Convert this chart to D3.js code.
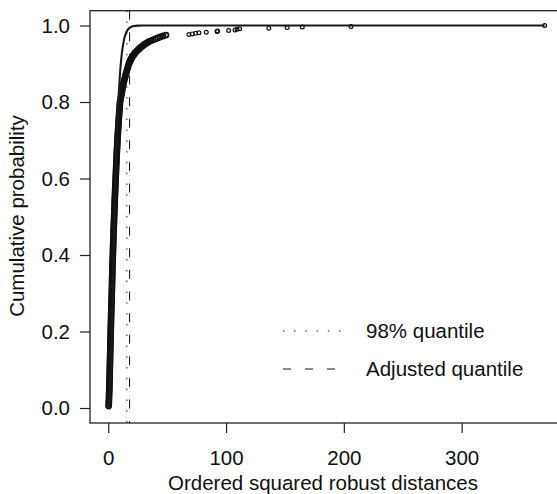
<!DOCTYPE html>
<html><head><meta charset="utf-8">
<script src="https://cdn.jsdelivr.net/npm/d3@7"></script>
<style>
body{margin:0;background:#fff}
svg{display:block}
text{font-family:"Liberation Sans",Arial,Helvetica,sans-serif;fill:#111}
</style>
</head><body>
<svg id="chart" width="557" height="494"></svg>
<script>
// ---- data ----
// dense part of the ordered squared robust distances and their cumulative probabilities
const bandDist = [
  0.35,0.42,0.48,0.55,0.62,0.66,0.72,0.78,0.84,0.90,
  0.93,0.98,1.02,1.06,1.10,1.14,1.18,1.22,1.26,1.30,
  1.34,1.38,1.42,1.46,1.50,1.54,1.58,1.62,1.66,1.70,
  1.74,1.78,1.82,1.86,1.90,1.94,1.98,2.02,2.06,2.10,
  2.14,2.18,2.22,2.26,2.30,2.34,2.38,2.42,2.46,2.50,
  2.55,2.60,2.65,2.70,2.75,2.80,2.85,2.90,2.95,3.00,
  3.04,3.08,3.12,3.16,3.20,3.24,3.28,3.32,3.36,3.40,
  3.45,3.50,3.55,3.60,3.65,3.70,3.75,3.80,3.85,3.90,
  3.95,4.00,4.05,4.10,4.15,4.20,4.25,4.30,4.35,4.40,
  4.46,4.52,4.58,4.64,4.70,4.76,4.82,4.88,4.94,5.00,
  5.06,5.12,5.18,5.24,5.30,5.36,5.42,5.48,5.54,5.60,
  5.67,5.74,5.81,5.88,5.95,6.02,6.09,6.16,6.23,6.30,
  6.37,6.44,6.51,6.58,6.65,6.72,6.79,6.86,6.93,7.00,
  7.08,7.16,7.24,7.32,7.40,7.48,7.56,7.64,7.72,7.80,
  7.90,8.00,8.10,8.20,8.30,8.40,8.50,8.60,8.70,8.80,
  8.92,9.04,9.16,9.28,9.40,9.52,9.64,9.76,9.88,10.0,
  10.3,10.6,10.9,11.2,11.5,11.8,12.1,12.4,12.7,13.0,
  13.4,13.8,14.3,14.7,15.2,15.6,16.1,16.6,17.0,17.5,
  17.9,18.2,18.6,19.0,19.4,19.9,20.3,20.8,21.4,22.0,
  22.6,23.2,24.0,24.9,25.7,26.5,27.5,28.5,29.5,30.5,
  31.7,33.0,34.5,36.0,38.0,40.0,42.0,44.0,46.5,49.0
];
const bandProb = [
  0.005,0.010,0.015,0.020,0.025,0.030,0.035,0.040,0.045,0.050,
  0.055,0.060,0.065,0.070,0.075,0.080,0.085,0.090,0.095,0.100,
  0.105,0.110,0.115,0.120,0.125,0.130,0.135,0.140,0.145,0.150,
  0.155,0.160,0.165,0.170,0.175,0.180,0.185,0.190,0.195,0.200,
  0.205,0.210,0.215,0.220,0.225,0.230,0.235,0.240,0.245,0.250,
  0.255,0.260,0.265,0.270,0.275,0.280,0.285,0.290,0.295,0.300,
  0.305,0.310,0.315,0.320,0.325,0.330,0.335,0.340,0.345,0.350,
  0.355,0.360,0.365,0.370,0.375,0.380,0.385,0.390,0.395,0.400,
  0.405,0.410,0.415,0.420,0.425,0.430,0.435,0.440,0.445,0.450,
  0.455,0.460,0.465,0.470,0.475,0.480,0.485,0.490,0.495,0.500,
  0.505,0.510,0.515,0.520,0.525,0.530,0.535,0.540,0.545,0.550,
  0.555,0.560,0.565,0.570,0.575,0.580,0.585,0.590,0.595,0.600,
  0.605,0.610,0.615,0.620,0.625,0.630,0.635,0.640,0.645,0.650,
  0.655,0.660,0.665,0.670,0.675,0.680,0.685,0.690,0.695,0.700,
  0.705,0.710,0.715,0.720,0.725,0.730,0.735,0.740,0.745,0.750,
  0.755,0.760,0.765,0.770,0.775,0.780,0.785,0.790,0.795,0.800,
  0.805,0.810,0.815,0.820,0.825,0.830,0.835,0.840,0.845,0.850,
  0.855,0.860,0.865,0.870,0.875,0.880,0.885,0.890,0.895,0.900,
  0.9025,0.9050,0.9075,0.9100,0.9125,0.9150,0.9175,0.9200,0.9225,0.9250,
  0.9275,0.9300,0.9325,0.9350,0.9375,0.9400,0.9425,0.9450,0.9475,0.9500,
  0.9525,0.9550,0.9575,0.9600,0.9625,0.9650,0.9675,0.9700,0.9725,0.9750
];
// isolated large distances
const sparseDist = [68.5,71.3,74.2,77.0,83.2,92.3,92.8,102.2,107.6,109.3,111.5,136.3,151.9,164.7,206.0,370.5];
const sparseProb = [0.9765,0.978,0.9795,0.981,0.9825,0.984,0.9855,0.987,0.9885,0.990,0.9915,0.993,0.9945,0.996,0.9975,1.0];
// theoretical cumulative distribution curve
const curveX = [0,0.5,1,1.5,2,2.5,3,3.5,4,5,6,7,8,9,10,11,12,13,14,15,16,18,20,22,25,30,370.5];
const curveY = [0,0.0022,0.0144,0.0405,0.0803,0.1315,0.1912,0.2561,0.3233,0.4562,0.5768,0.6792,0.7619,0.8264,0.8753,0.9116,0.9380,0.9570,0.9704,0.9797,0.9862,0.9938,0.9972,0.9988,0.9997,1.0,1.0];
// vertical reference lines
const quantile98 = 15.8;
const adjustedQuantile = 18.1;
const xTicks = [0,100,200,300];
const yTicks = [0,0.2,0.4,0.6,0.8,1.0];
const legendLabels = ["98% quantile","Adjusted quantile"];
const xTitle = "Ordered squared robust distances";
const yTitle = "Cumulative probability";

// ---- drawing ----
const svg = d3.select("#chart");
const L = 90, R = 562, T = 10.7, B = 423;
const x = d3.scaleLinear().domain([-15.5, 385.2]).range([L, R]);
const y = d3.scaleLinear().domain([-0.0392, 1.0387]).range([B, T]);
const fs = 20.5;

svg.append("defs").append("clipPath").attr("id","plotclip")
  .append("rect").attr("x",L).attr("y",T).attr("width",R-L).attr("height",B-T);

const plot = svg.append("g").attr("clip-path","url(#plotclip)");

// reference lines
plot.append("line").attr("x1",x(quantile98)).attr("x2",x(quantile98)).attr("y1",T).attr("y2",B)
  .attr("stroke","#111").attr("stroke-width",1).attr("stroke-dasharray","1.4,9.4");
plot.append("line").attr("x1",x(adjustedQuantile)).attr("x2",x(adjustedQuantile)).attr("y1",T).attr("y2",B)
  .attr("stroke","#111").attr("stroke-width",1).attr("stroke-dasharray","9,12.6");

// points: the dense band (heavily overlapping) and the isolated ones
plot.append("g").selectAll("circle").data(bandDist.map((d,i)=>({d, p: bandProb[i]}))).join("circle")
  .attr("cx", d=>x(d.d)).attr("cy", d=>y(d.p)).attr("r", 2.5)
  .attr("fill","none").attr("stroke","#111").attr("stroke-width",1.8);
plot.append("g").selectAll("circle").data(sparseDist.map((d,i)=>({d, p: sparseProb[i]}))).join("circle")
  .attr("cx", d=>x(d.d)).attr("cy", d=>y(d.p)).attr("r", 1.9)
  .attr("fill","none").attr("stroke","#111").attr("stroke-width",1.2);

// theoretical curve
const curve = curveX.map((v,i)=>[v, curveY[i]]);
plot.append("path").datum(curve)
  .attr("d", d3.line().x(d=>x(d[0])).y(d=>y(d[1])).curve(d3.curveMonotoneX))
  .attr("fill","none").attr("stroke","#1a1a1a").attr("stroke-width",2.1);

// box
svg.append("rect").attr("x",L).attr("y",T).attr("width",R-L).attr("height",B-T)
  .attr("fill","none").attr("stroke","#222").attr("stroke-width",1.3);

// axes
const xa = svg.append("g").attr("transform",`translate(0,${B})`)
  .call(d3.axisBottom(x).tickValues(xTicks).tickSize(10).tickPadding(17).tickFormat(d3.format("d")));
const ya = svg.append("g").attr("transform",`translate(${L},0)`)
  .call(d3.axisLeft(y).tickValues(yTicks).tickSize(10).tickPadding(10).tickFormat(d3.format(".1f")));
[xa, ya].forEach(a=>{
  a.select(".domain").remove();
  a.selectAll(".tick line").attr("stroke","#222").attr("stroke-width",1.2);
  a.selectAll(".tick text").attr("font-size",fs).attr("fill","#111")
    .style("font-family",'"Liberation Sans",Arial,Helvetica,sans-serif');
});

// titles
svg.append("text").attr("x",323).attr("y",490).attr("text-anchor","middle")
  .attr("font-size",fs).text(xTitle);
svg.append("text").attr("transform","translate(24,216) rotate(-90)").attr("text-anchor","middle")
  .attr("font-size",fs).text(yTitle);

// legend
const legY = [331, 369];
svg.append("line").attr("x1",283).attr("x2",343).attr("y1",legY[0]).attr("y2",legY[0])
  .attr("stroke","#111").attr("stroke-width",1).attr("stroke-dasharray","1.4,9.8");
svg.append("line").attr("x1",283).attr("x2",336).attr("y1",legY[1]).attr("y2",legY[1])
  .attr("stroke","#111").attr("stroke-width",1).attr("stroke-dasharray","8,14");
legendLabels.forEach((t,i)=>{
  svg.append("text").attr("x",366).attr("y",legY[i]).attr("dy","0.35em")
    .attr("font-size",fs).text(t);
});
</script>
</body></html>
